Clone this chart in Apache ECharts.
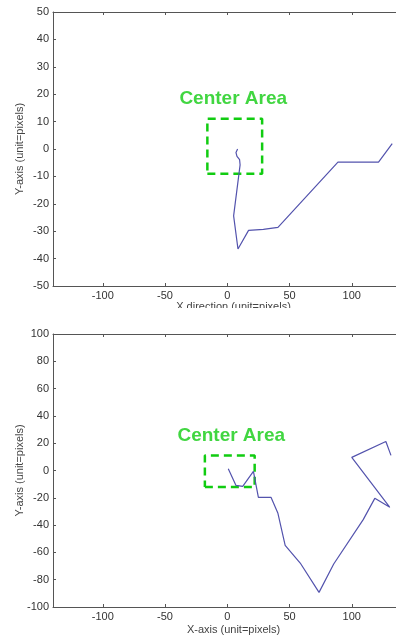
<!DOCTYPE html>
<html>
<head>
<meta charset="utf-8">
<script src="https://cdn.jsdelivr.net/npm/echarts@6/dist/echarts.min.js"></script>
<style>
  html, body { margin: 0; padding: 0; background: #fff; overflow: hidden; }
  .clip { position: absolute; left: 0; width: 396px; overflow: hidden; background: #fff; }
  .chart { width: 420px; }
</style>
</head>
<body>
<div class="clip" style="top:0;height:308px"><div id="topChart" class="chart" style="height:330px"></div></div>
<div class="clip" style="top:308px;height:329px"><div id="bottomChart" class="chart" style="height:340px"></div></div>
<script>
// x ticks shared by both panels
const xTicks = [-100, -50, 0, 50, 100, 150];

// upper panel: path (x, y) in pixels
const topPathX = [8.3, 7.0, 7.8, 9.9, 10.3, 5.1, 8.6, 17.1, 29.0, 40.7, 88.9, 121.5, 132.5];
const topPathY = [0, -1.3, -2.7, -3.9, -5.8, -24.4, -36.5, -29.7, -29.3, -28.6, -4.8, -4.8, 2.0];
const topBoxX = [-16, 28];
const topBoxY = [-9, 11];
const topLabelPos = [4.8, 18.3];

// lower panel
const botPathX = [0.8, 7.0, 12.4, 21.0, 25.0, 35.2, 40.6, 46.5, 58.6, 73.7, 85.5, 109.2, 118.5, 130.6, 100.0, 127.4, 131.5];
const botPathY = [1.3, -10.9, -11.6, -0.7, -19.7, -19.7, -31.1, -54.9, -67.8, -89.3, -68.5, -36.0, -20.4, -27.0, 9.6, 21.3, 11.1];
const botBoxX = [-18, 22];
const botBoxY = [-12, 11];
const botLabelPos = [3.2, 25.5];

const axisGray = '#555';
const textGray = '#333';
const lineBlue = '#5353ad';
const green = '#11cc11';
const font = 'Liberation Sans, Arial, sans-serif';

function zip (xs, ys) {
    return xs.map((x, i) => [x, ys[i]]);
}

function boxPoints (bx, by) {
    return [[bx[0], by[0]], [bx[1], by[0]], [bx[1], by[1]], [bx[0], by[1]], [bx[0], by[0]]];
}

function buildOption (cfg) {
    const tick = { show: true, inside: true, length: 3, lineStyle: { color: axisGray } };
    return {
        animation: false,
        grid: { left: 53, top: cfg.top, width: 361, height: cfg.height, outerBoundsMode: 'none', containLabel: false },
        xAxis: [{
            type: 'value', min: -140, max: 150, position: 'bottom',
            name: cfg.xName, nameLocation: 'middle', nameGap: cfg.xNameGap, nameMoveOverlap: false,
            nameTextStyle: { color: '#444', fontSize: 11, fontFamily: font },
            axisLine: { show: true, onZero: false, lineStyle: { color: axisGray, width: 1 } },
            axisTick: Object.assign({ customValues: xTicks }, tick),
            axisLabel: { customValues: xTicks, color: textGray, fontSize: 11, fontFamily: font, margin: 4 },
            splitLine: { show: false }
        }, {
            type: 'value', min: -140, max: 150, position: 'top',
            axisLine: { show: true, onZero: false, lineStyle: { color: axisGray, width: 1 } },
            axisTick: Object.assign({ customValues: xTicks }, tick),
            axisLabel: { show: false },
            splitLine: { show: false }
        }],
        yAxis: {
            type: 'value', min: cfg.yMin, max: cfg.yMax, interval: cfg.yStep,
            name: 'Y-axis (unit=pixels)', nameLocation: 'middle', nameGap: 28, nameRotate: 90,
            nameMoveOverlap: false,
            nameTextStyle: { color: '#444', fontSize: 11, fontFamily: font },
            axisLine: { show: true, onZero: false, lineStyle: { color: axisGray, width: 1 } },
            axisTick: tick,
            axisLabel: { color: textGray, fontSize: 11, fontFamily: font, margin: 4 },
            splitLine: { show: false }
        },
        series: [{
            type: 'line',
            data: zip(cfg.pathX, cfg.pathY),
            symbol: 'none',
            lineStyle: { color: lineBlue, width: 1.2 },
            z: 3
        }, {
            type: 'line',
            data: boxPoints(cfg.boxX, cfg.boxY),
            symbol: 'none',
            lineStyle: { color: green, width: 2.5, type: [8, 5] },
            z: 2
        }, {
            type: 'scatter',
            data: [cfg.labelPos],
            symbolSize: 0,
            label: {
                show: true, position: 'inside', formatter: 'Center Area',
                color: green, fontSize: 19, fontWeight: 'bold', fontFamily: font
            }
        }]
    };
}

const topChart = echarts.init(document.getElementById('topChart'));
topChart.setOption(buildOption({
    top: 12, height: 274, yMin: -50, yMax: 50, yStep: 10,
    xName: 'X direction (unit=pixels)', xNameGap: 15,
    pathX: topPathX, pathY: topPathY, boxX: topBoxX, boxY: topBoxY, labelPos: topLabelPos
}));

const bottomChart = echarts.init(document.getElementById('bottomChart'));
bottomChart.setOption(buildOption({
    top: 26, height: 273, yMin: -100, yMax: 100, yStep: 20,
    xName: 'X-axis (unit=pixels)', xNameGap: 17,
    pathX: botPathX, pathY: botPathY, boxX: botBoxX, boxY: botBoxY, labelPos: botLabelPos
}));
</script>
</body>
</html>
